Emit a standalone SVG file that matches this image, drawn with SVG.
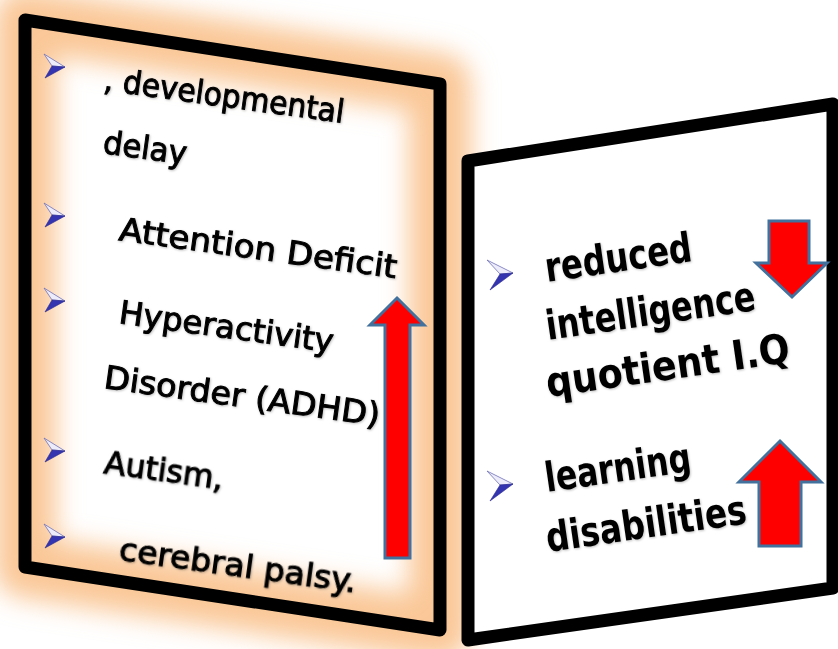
<svg xmlns="http://www.w3.org/2000/svg" width="838" height="649" viewBox="0 0 838 649">
  <defs>
    <style>
      .frame { fill: none; stroke: #000; stroke-width: 13; stroke-linejoin: round; }
      .lt { font-family: "DejaVu Sans", "Liberation Sans", sans-serif; font-size: 32px; fill: #000; stroke: #000; stroke-width: 1; }
      .rt { font-family: "DejaVu Sans", "Liberation Sans", sans-serif; font-size: 41px; font-weight: bold; fill: #000; }
      .bt { fill: #ececfa; stroke: #7070b8; stroke-width: 0.8; stroke-linejoin: round; }
      .bb { fill: #3434b0; stroke: #2a2a90; stroke-width: 0.6; stroke-linejoin: round; }
      .arrow { fill: #ff0000; stroke: #41719c; stroke-width: 3; stroke-linejoin: miter; }
    </style>
    <filter id="glow" x="-30%" y="-30%" width="160%" height="160%">
      <feGaussianBlur stdDeviation="13"/>
    </filter>
    <filter id="shadow" x="-10%" y="-30%" width="120%" height="160%">
      <feDropShadow dx="0.8" dy="1" stdDeviation="1.2" flood-color="#000" flood-opacity="0.25"/>
    </filter>
  </defs>
  <rect width="838" height="649" fill="#fff"/>

  <g id="left-panel">
    <polygon points="25,20 440,84 440,630 25,567" fill="#fff"/>
    <polygon points="25,20 440,84 440,630 25,567" fill="none" stroke="#fac898" stroke-width="62" stroke-linejoin="round" filter="url(#glow)"/>
    <polygon class="frame" points="25,20 440,84 440,630 25,567"/>
  </g>

  <g id="right-panel">
    <polygon points="468,161 833,104 833,588 468,640" fill="#fff"/>
    <polygon class="frame" points="468,161 833,104 833,588 468,640"/>
  </g>

  <g id="left-bullets">
    <g>
      <polygon class="bt" points="44,54 65,67 52,66"/>
      <polygon class="bb" points="52,66 65,67 45,78"/>
    </g>
    <g transform="translate(0,149)">
      <polygon class="bt" points="44,54 65,67 52,66"/>
      <polygon class="bb" points="52,66 65,67 45,78"/>
    </g>
    <g transform="translate(0,234)">
      <polygon class="bt" points="44,54 65,67 52,66"/>
      <polygon class="bb" points="52,66 65,67 45,78"/>
    </g>
    <g transform="translate(0,384)">
      <polygon class="bt" points="44,54 65,67 52,66"/>
      <polygon class="bb" points="52,66 65,67 45,78"/>
    </g>
    <g transform="translate(0,470)">
      <polygon class="bt" points="44,54 65,67 52,66"/>
      <polygon class="bb" points="52,66 65,67 45,78"/>
    </g>
  </g>

  <g id="left-text" filter="url(#shadow)">
    <text class="lt" x="103" y="90" transform="rotate(7.8 103 90)" textLength="242" lengthAdjust="spacingAndGlyphs">, developmental</text>
    <text class="lt" x="102" y="153" transform="rotate(7.8 102 153)" textLength="84" lengthAdjust="spacingAndGlyphs">delay</text>
    <text class="lt" x="118" y="240" transform="rotate(7.8 118 240)" textLength="280" lengthAdjust="spacingAndGlyphs">Attention Deficit</text>
    <text class="lt" x="118" y="323" transform="rotate(7.8 118 323)" textLength="216" lengthAdjust="spacingAndGlyphs">Hyperactivity</text>
    <text class="lt" x="103" y="388" transform="rotate(7.8 103 388)" textLength="278" lengthAdjust="spacingAndGlyphs">Disorder (ADHD)</text>
    <text class="lt" x="103" y="473" transform="rotate(7.8 103 473)" textLength="120" lengthAdjust="spacingAndGlyphs">Autism,</text>
    <text class="lt" x="118" y="560" transform="rotate(7.8 118 560)" textLength="239" lengthAdjust="spacingAndGlyphs">cerebral palsy.</text>
  </g>

  <g id="left-arrow">
    <polygon class="arrow" points="397,298 424,325 410,325 410,558 385,558 385,325 370,325"/>
  </g>

  <g id="right-bullets">
    <g>
      <polygon class="bt" points="487,260 513,273 500,274"/>
      <polygon class="bb" points="500,274 513,273 490,290"/>
    </g>
    <g transform="translate(0,211)">
      <polygon class="bt" points="487,260 513,273 500,274"/>
      <polygon class="bb" points="500,274 513,273 490,290"/>
    </g>
  </g>

  <g id="right-text" filter="url(#shadow)">
    <text class="rt" x="547" y="282" transform="rotate(-8.2 547 282)" textLength="148" lengthAdjust="spacingAndGlyphs">reduced</text>
    <text class="rt" x="548" y="340" transform="rotate(-8.2 548 340)" textLength="211" lengthAdjust="spacingAndGlyphs">intelligence</text>
    <text class="rt" x="548" y="397" transform="rotate(-8.2 548 397)" textLength="246" lengthAdjust="spacingAndGlyphs">quotient I.Q</text>
    <text class="rt" x="547" y="492" transform="rotate(-8.2 547 492)" textLength="147" lengthAdjust="spacingAndGlyphs">learning</text>
    <text class="rt" x="548" y="552" transform="rotate(-8.2 548 552)" textLength="202" lengthAdjust="spacingAndGlyphs">disabilities</text>
  </g>

  <g id="right-arrows">
    <polygon class="arrow" points="769,221 809,221 809,263 827,263 792,297 756,263 769,263"/>
    <polygon class="arrow" points="780,441 821,482 801,482 801,546 759,546 759,482 739,482"/>
  </g>
</svg>
